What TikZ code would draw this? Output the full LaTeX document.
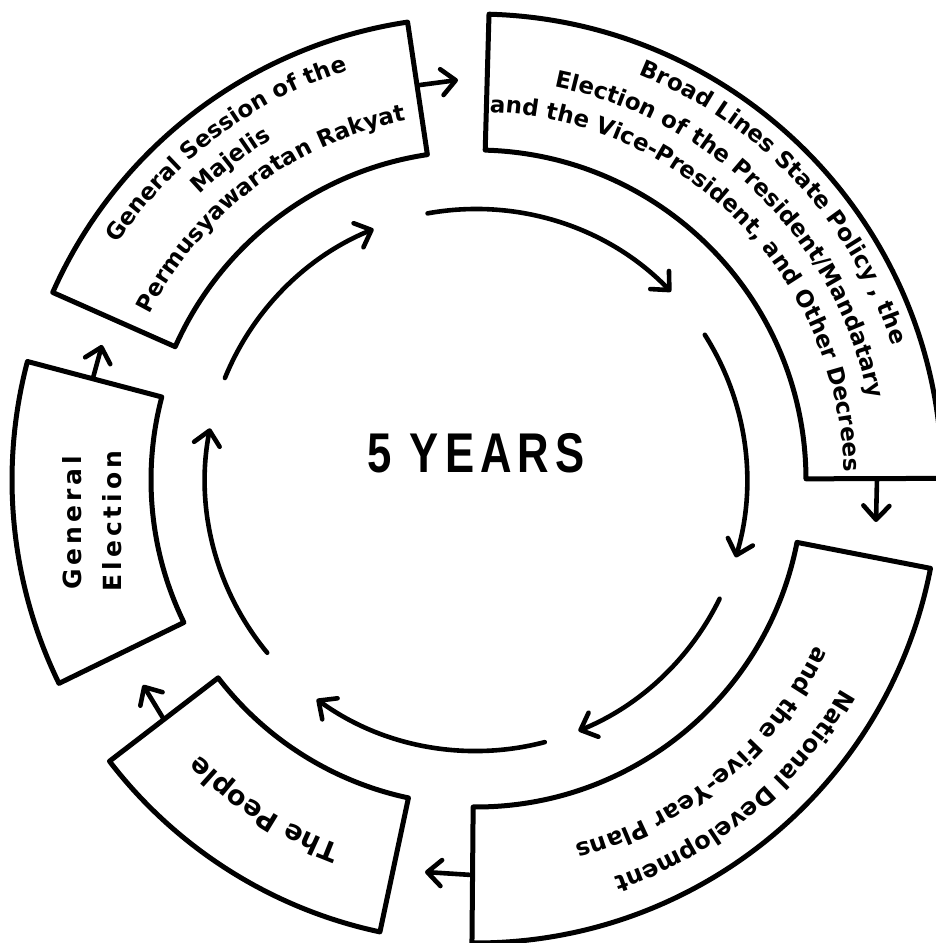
\documentclass[tikz,border=0pt]{standalone}
\usepackage{fontspec}
\setmainfont{DejaVu Sans}
\newfontfamily\lblfont{DejaVu Sans}
\newfontfamily\bigfont{Liberation Sans}
\usetikzlibrary{arrows.meta,decorations.text}

\tikzset{
  seg/.style={draw, line width=5pt, line join=round},
  cyc/.style={line width=4.6pt, line cap=round, -{Straight Barb[length=14pt,width=26pt,round]}},
  link/.style={line width=4.6pt, line cap=round, -{Straight Barb[length=14pt,width=26pt,round]}},
}

% annular box: start angle, end angle, inner radius, outer radius
\newcommand\segbox[4]{%
  \draw[seg] ([shift={(#1:#4pt)}]C) arc[start angle=#1, end angle=#2, radius=#4pt]
    -- ([shift={(#2:#3pt)}]C) arc[start angle=#2, end angle=#1, radius=#3pt] -- cycle;}

% text on an arc, read clockwise: centre angle, half span, radius, size, text
\newcommand\arclabel[5]{%
  \path[decorate, decoration={text along path, text align=center,
      text={|\lblfont\bfseries\fontsize{#4}{#4}\selectfont|#5}}]
    ([shift={(#1+#2:#3pt)}]C) arc[start angle=#1+#2, end angle=#1-#2, radius=#3pt];}

% inner cycle arc with arrow: start angle, end angle
\newcommand\cyclearc[2]{%
  \draw[cyc] ([shift={(#1:271pt)}]C) arc[start angle=#1, end angle=#2, radius=271pt];}

\begin{document}
\begin{tikzpicture}[x=1pt,y=1pt]
\useasboundingbox (0,0) rectangle (936,943);
\coordinate (C) at (476,463);

% the five boxes
\segbox{156.1}{98.5}{329}{463}   % General Session
\segbox{88.4}{0.2}{330}{466}     % Broad Lines
\segbox{-11}{-90.5}{327}{463}    % National Development
\segbox{-102}{-142.5}{325}{462}  % The People
\segbox{206}{165.2}{325}{464}    % General Election

% texts
\arclabel{127}{60}{429}{23}{General Session of the}
\arclabel{127.5}{60}{397}{23}{Majelis}
\arclabel{127}{60}{366}{23}{Permusyawaratan Rakyat}

\arclabel{43}{60}{437}{23}{Broad Lines State Policy , the}
\arclabel{45.2}{60}{401}{23}{Election of the President/Mandatary}
\arclabel{44.6}{60}{368}{23}{and the Vice-President, and Other Decrees}

\arclabel{-50.3}{60}{421}{24}{National Development}
\arclabel{-50.4}{60}{378}{24}{and the Five-Year Plans}

\arclabel{-122.8}{45}{390}{27}{The People}

\node[rotate=90, inner sep=0pt, font=\lblfont\bfseries\fontsize{25}{28}\selectfont\addfontfeature{LetterSpace=16}] (ge1) at (72,420) {General};
\node[rotate=90, inner sep=0pt, font=\lblfont\bfseries\fontsize{25}{28}\selectfont\addfontfeature{LetterSpace=16}] (ge2) at (112,422) {Election};

\node[inner sep=0pt] (years) at (476,490) {\bigfont\bfseries\fontsize{56}{60}\selectfont\scalebox{0.78}[1]{\addfontfeature{LetterSpace=14}5 YEARS}};

% links between boxes
\coordinate (ab1) at (420,858); \coordinate (ab2) at (458,863);
\coordinate (bc1) at (877,464); \coordinate (bc2) at (876,421);
\coordinate (cd1) at (472,68);  \coordinate (cd2) at (425,71);
\coordinate (de1) at (163,225); \coordinate (de2) at (143,258);
\coordinate (ea1) at (93,565);  \coordinate (ea2) at (102,598);
\draw[link] (ab1) -- (ab2);
\draw[link] (bc1) -- (bc2);
\draw[link] (cd1) -- (cd2);
\draw[link] (de1) -- (de2);
\draw[link] (ea1) -- (ea2);

% inner cycle
\cyclearc{100.3}{44}
\cyclearc{32.4}{-16.6}
\cyclearc{-26}{-67.8}
\cyclearc{-75.3}{-126}
\cyclearc{219.6}{169}
\cyclearc{157.9}{112.2}
\end{tikzpicture}
\end{document}
